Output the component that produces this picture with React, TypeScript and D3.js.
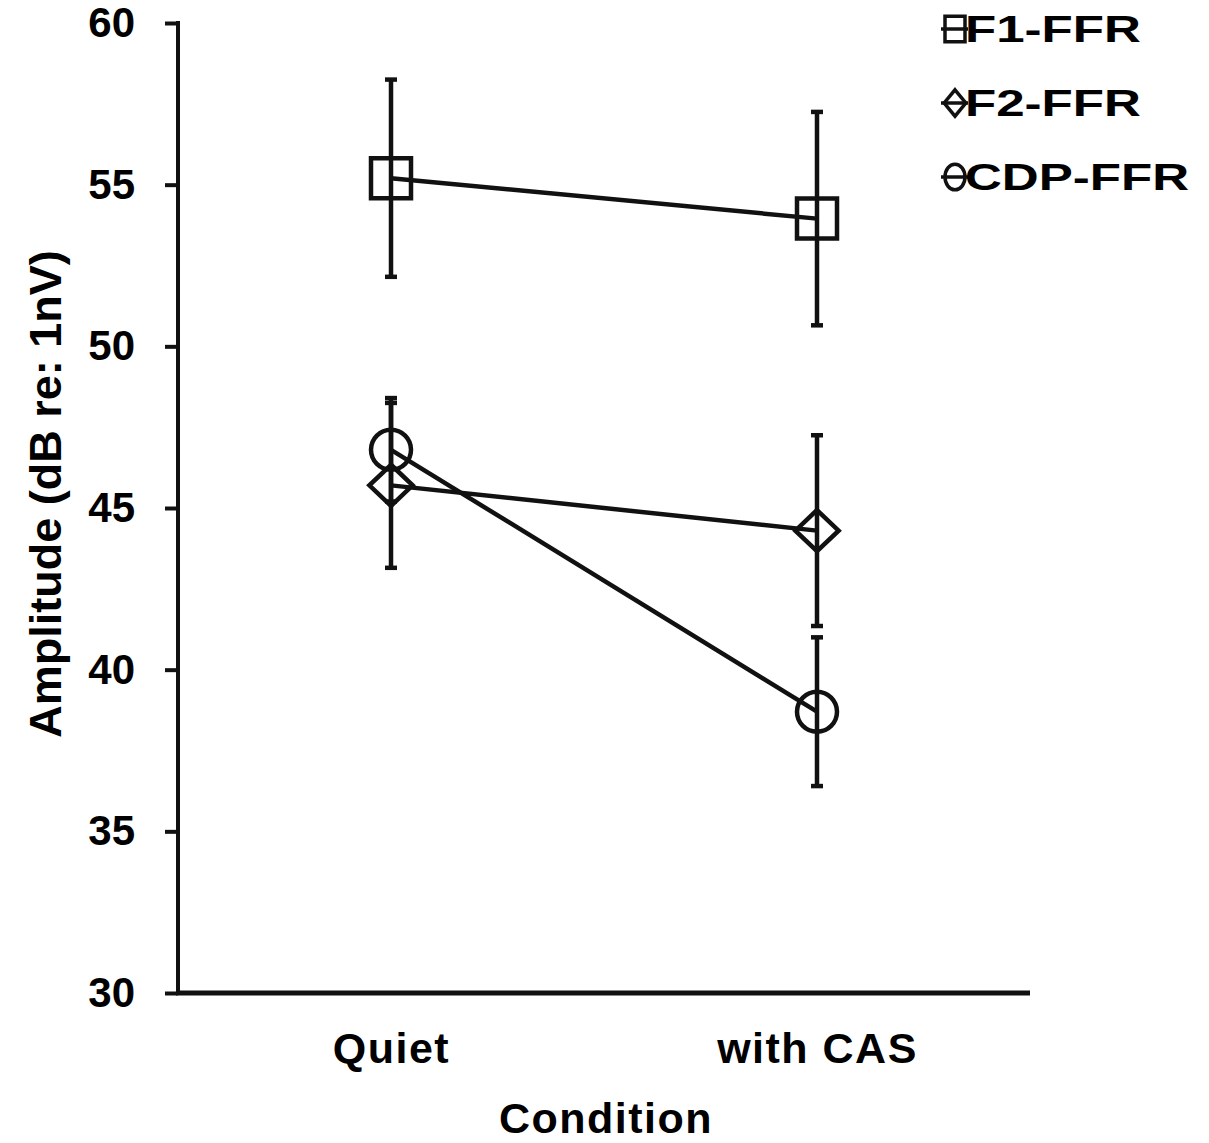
import React, { useEffect, useRef } from 'react';
import * as d3 from 'd3';

// Amplitude by condition, three FFR components with error bars

const conditions = ['Quiet', 'with CAS'];
const seriesNames = ['F1-FFR', 'F2-FFR', 'CDP-FFR'];
const f1Means = [55.2, 53.95];
const f1Errors = [3.05, 3.3];
const f2Means = [45.7, 44.3];
const f2Errors = [2.55, 2.95];
const cdpMeans = [46.8, 38.7];
const cdpErrors = [1.6, 2.3];
const yTicks = [30, 35, 40, 45, 50, 55, 60];

// wide diamond used for F2
const wideDiamond = {
  draw(context: any, size: number) {
    const h = Math.sqrt(size) / 2;
    const w = h * 1.05;
    context.moveTo(0, -h);
    context.lineTo(w, 0);
    context.lineTo(0, h);
    context.lineTo(-w, 0);
    context.closePath();
  },
};

const App = () => {
  const ref = useRef<SVGSVGElement>(null);

  useEffect(() => {
    const W = 1209, H = 1143;
    const margin = { top: 23, right: 179, bottom: 150, left: 178 };
    const font = '"Liberation Sans", Arial, sans-serif';
    const ink = '#111';

    const svg = d3.select(ref.current).attr('width', W).attr('height', H);
    svg.selectAll('*').remove();

    const x = d3.scalePoint<string>().domain(conditions).range([margin.left, W - margin.right]).padding(0.5);
    const y = d3.scaleLinear().domain([30, 60]).range([H - margin.bottom, margin.top]);

    const series = [
      { name: seriesNames[0], means: f1Means, errs: f1Errors, type: d3.symbolSquare, size: 1600 },
      { name: seriesNames[1], means: f2Means, errs: f2Errors, type: wideDiamond, size: 1700 },
      { name: seriesNames[2], means: cdpMeans, errs: cdpErrors, type: d3.symbolCircle, size: 1257 },
    ];

    // Y axis
    const yAxis = svg.append('g')
      .attr('transform', `translate(${margin.left},0)`)
      .call(d3.axisLeft(y).tickValues(yTicks).tickSize(13).tickPadding(30).tickFormat(d3.format('d')));
    yAxis.select('.domain').attr('stroke', ink).attr('stroke-width', 4)
      .attr('d', `M0,${y(60) - 2}V${y(30) + 2}`);
    yAxis.selectAll('.tick line').attr('stroke', ink).attr('stroke-width', 4);
    yAxis.selectAll('.tick text')
      .attr('fill', '#000').style('font-family', font).style('font-weight', 'bold').style('font-size', '42px');

    // X axis
    const xAxis = svg.append('g')
      .attr('transform', `translate(0,${y(30)})`)
      .call(d3.axisBottom(x).tickSize(0).tickPadding(50));
    xAxis.select('.domain').attr('stroke', ink).attr('stroke-width', 5)
      .attr('d', `M${margin.left - 2},0H${W - margin.right}`);
    xAxis.selectAll('.tick text')
      .attr('fill', '#000').attr('dy', 0).attr('y', 70)
      .style('font-family', font).style('font-weight', 'bold').style('font-size', '43px')
      .style('letter-spacing', '1.5px');

    // Axis titles
    svg.append('text')
      .attr('transform', `translate(61,${(y(60) + y(30)) / 2 - 14}) rotate(-90)`)
      .attr('text-anchor', 'middle')
      .style('font-family', font).style('font-weight', 'bold').style('font-size', '45px')
      .text('Amplitude (dB re: 1nV)');

    svg.append('text')
      .attr('x', (margin.left + W - margin.right) / 2 + 2)
      .attr('y', 1133)
      .attr('text-anchor', 'middle')
      .style('font-family', font).style('font-weight', 'bold').style('font-size', '43px')
      .style('letter-spacing', '1.5px')
      .text('Condition');

    const line = d3.line<number>()
      .x((_, i) => x(conditions[i]) as number)
      .y(d => y(d));

    series.forEach(s => {
      const g = svg.append('g');
      // error bars
      s.means.forEach((m, i) => {
        const cx = x(conditions[i]) as number;
        g.append('line').attr('x1', cx).attr('x2', cx)
          .attr('y1', y(m + s.errs[i])).attr('y2', y(m - s.errs[i]))
          .attr('stroke', ink).attr('stroke-width', 4.5);
        [m + s.errs[i], m - s.errs[i]].forEach(v => {
          g.append('line').attr('x1', cx - 6).attr('x2', cx + 6)
            .attr('y1', y(v)).attr('y2', y(v))
            .attr('stroke', ink).attr('stroke-width', 4.5);
        });
      });
      // connecting line
      g.append('path').datum(s.means).attr('d', line)
        .attr('fill', 'none').attr('stroke', ink).attr('stroke-width', 4.5);
      // markers
      g.selectAll('.mk').data(s.means).join('path')
        .attr('class', 'mk')
        .attr('transform', (d, i) => `translate(${x(conditions[i])},${y(d)})`)
        .attr('d', d3.symbol().type(s.type as any).size(s.size)())
        .attr('fill', 'none').attr('stroke', ink).attr('stroke-width', 4.5);
    });

    // Legend
    const legend = svg.append('g');
    series.forEach((s, i) => {
      const ly = 29 + i * 74;
      legend.append('line').attr('x1', 941).attr('x2', 968).attr('y1', ly).attr('y2', ly)
        .attr('stroke', ink).attr('stroke-width', 3.5);
      legend.append('path')
        .attr('transform', `translate(955,${ly}) scale(0.5,0.64)`)
        .attr('d', d3.symbol().type(s.type as any).size(s.size)())
        .attr('fill', 'none').attr('stroke', ink).attr('stroke-width', 3.5)
        .attr('vector-effect', 'non-scaling-stroke');
      legend.append('text')
        .attr('transform', `translate(965,${ly}) scale(1.38,1)`)
        .attr('dy', '0.36em')
        .style('font-family', font).style('font-weight', 'bold').style('font-size', '37px')
        .text(s.name);
    });
  }, []);

  return (
    <svg ref={ref} style={{ position: 'absolute', left: 0, top: 0, background: '#fff' }}></svg>
  );
};

export default App;
